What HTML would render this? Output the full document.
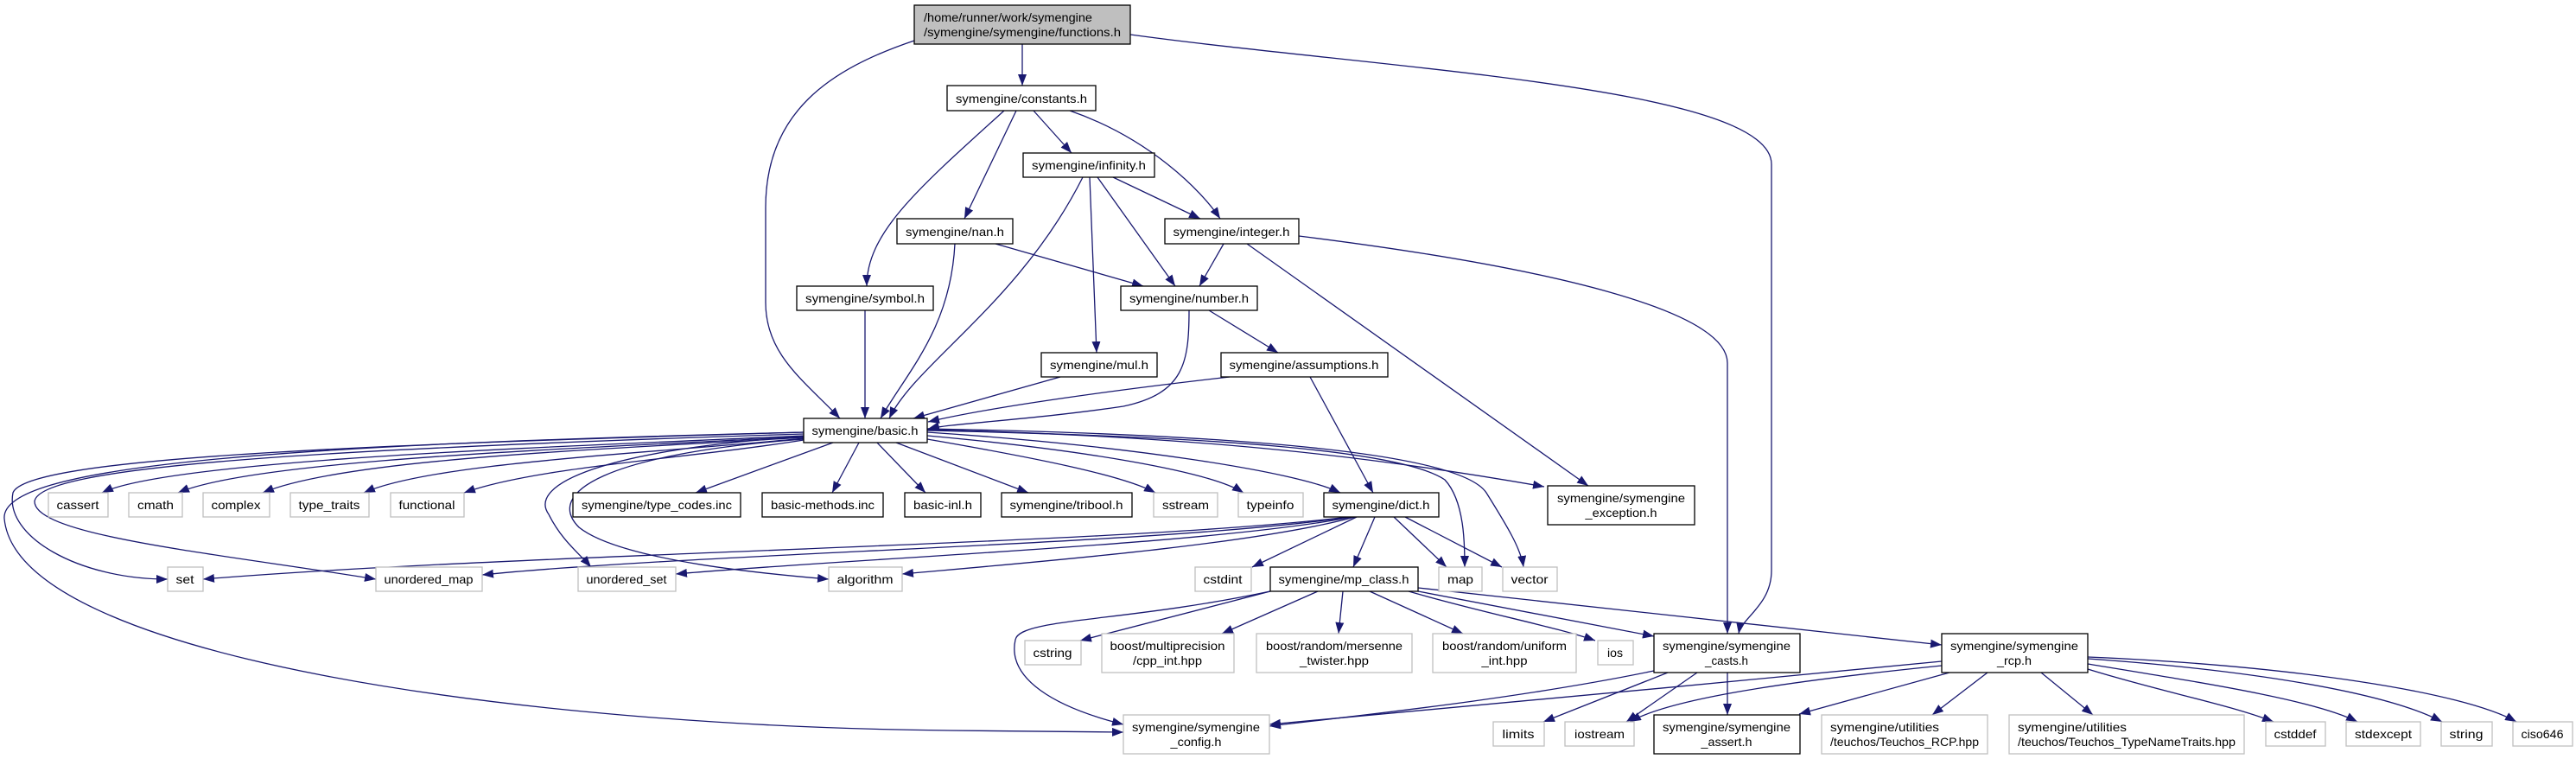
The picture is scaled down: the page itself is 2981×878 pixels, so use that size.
<!DOCTYPE html>
<html><head><meta charset="utf-8"><style>
html,body{margin:0;padding:0;background:#fff;}
svg{display:block;}
text{font-family:"Liberation Sans","DejaVu Sans",sans-serif;font-size:14px;fill:#000;}
.n{fill:#fff;stroke:#000;stroke-width:1.3;}
.g{fill:#fff;stroke:#bfbfbf;stroke-width:1.3;}
.e{fill:none;stroke:#191970;stroke-width:1.3;marker-end:url(#a);}
</style></head><body>
<svg width="2981" height="878" viewBox="0 0 2981 878" xmlns="http://www.w3.org/2000/svg">
<defs><marker id="a" markerUnits="userSpaceOnUse" markerWidth="14" markerHeight="10" refX="13" refY="5" orient="auto"><path d="M0,0 L13,5 L0,10 z" fill="#191970"/></marker></defs>

<!-- edges -->
<path class="e" d="M1183,51 L1183,99"/>
<path class="e" d="M1058,47 C960,80 886,130 886,240 L886,350 C886,410 930,440 972,484"/>
<path class="e" d="M1308,40 C1600,80 2050,100 2050,190 L2050,660 C2050,700 2015,715 2012,733"/>
<path class="e" d="M1162,128 C1060,220 1003,270 1003,331"/>
<path class="e" d="M1176,128 L1116,253"/>
<path class="e" d="M1196,128 L1240,177"/>
<path class="e" d="M1238,128 C1330,160 1390,220 1412,253"/>
<path class="e" d="M1253,205 C1180,350 1060,420 1029,484"/>
<path class="e" d="M1261,205 L1269,408"/>
<path class="e" d="M1270,205 L1360,331"/>
<path class="e" d="M1288,205 L1389,253"/>
<path class="e" d="M1105,282 C1100,380 1050,430 1019,484"/>
<path class="e" d="M1152,282 L1323,331"/>
<path class="e" d="M1416,282 L1388,331"/>
<path class="e" d="M1443,282 L1838,562"/>
<path class="e" d="M1503,273 C1800,310 1999,360 1999,420 L1999,733"/>
<path class="e" d="M1001,359 L1001,484"/>
<path class="e" d="M1376,359 C1376,420 1370,455 1300,470 C1200,485 1100,490 1074,496"/>
<path class="e" d="M1399,359 L1479,408"/>
<path class="e" d="M1227,436 L1057,484"/>
<path class="e" d="M1423,436 C1300,450 1150,470 1074,488"/>
<path class="e" d="M1516,436 L1589,570"/>

<path class="e" d="M930,504 C700,515 200,530 118,570"/>
<path class="e" d="M930,505 C700,518 300,530 206,570"/>
<path class="e" d="M930,506 C700,520 400,530 304,570"/>
<path class="e" d="M930,507 C750,525 500,535 421,570"/>
<path class="e" d="M930,509 C800,530 620,540 537,570"/>
<path class="e" d="M964,512 L805,570"/>
<path class="e" d="M994,512 L963,570"/>
<path class="e" d="M1015,512 L1071,570"/>
<path class="e" d="M1037,512 L1190,570"/>
<path class="e" d="M1073,508 C1200,530 1300,550 1337,570"/>
<path class="e" d="M1073,504 C1250,520 1400,545 1439,570"/>
<path class="e" d="M1073,500 C1300,515 1500,545 1551,570"/>
<path class="e" d="M1073,497 C1400,505 1600,530 1787,563"/>
<path class="e" d="M1073,498 C1400,505 1620,520 1672,555 C1695,580 1695,630 1695,656"/>
<path class="e" d="M1073,496 C1450,503 1690,525 1720,570 C1745,610 1760,635 1763,656"/>
<path class="e" d="M930,500 C400,515 30,530 15,570 C5,620 90,670 194,670"/>
<path class="e" d="M930,502 C350,520 45,540 40,580 C40,620 250,640 435,670"/>
<path class="e" d="M930,505 C700,520 610,560 635,595 C650,625 670,640 684,656"/>
<path class="e" d="M930,508 C700,525 630,570 670,610 C720,650 900,665 959,670"/>
<path class="e" d="M930,500 C300,515 0,540 5,600 C20,760 600,840 1100,845 L1300,847"/>

<path class="e" d="M1560,598 C1300,630 600,640 235,670"/>
<path class="e" d="M1562,598 C1350,630 800,640 558,665"/>
<path class="e" d="M1565,598 C1400,630 1000,645 782,664"/>
<path class="e" d="M1568,598 C1450,630 1200,650 1044,664"/>
<path class="e" d="M1570,598 L1449,656"/>
<path class="e" d="M1591,598 L1566,656"/>
<path class="e" d="M1613,598 L1674,656"/>
<path class="e" d="M1626,598 L1738,656"/>

<path class="e" d="M1470,684 L1250,741"/>
<path class="e" d="M1470,684 C1300,720 1180,715 1175,740 C1165,785 1220,818 1300,838"/>
<path class="e" d="M1525,684 L1414,733"/>
<path class="e" d="M1554,684 L1549,733"/>
<path class="e" d="M1585,684 L1693,733"/>
<path class="e" d="M1630,684 C1720,710 1800,725 1846,741"/>
<path class="e" d="M1641,684 L1914,736"/>
<path class="e" d="M1641,680 L2247,746"/>

<path class="e" d="M1914,776 C1750,810 1550,830 1469,840"/>
<path class="e" d="M1930,778 L1786,835"/>
<path class="e" d="M1964,778 L1882,835"/>
<path class="e" d="M1999,778 L1999,827"/>
<path class="e" d="M2247,765 C2000,790 1600,825 1469,838"/>
<path class="e" d="M2247,770 C2050,790 1930,810 1886,835"/>
<path class="e" d="M2256,778 L2082,826"/>
<path class="e" d="M2300,778 L2236,827"/>
<path class="e" d="M2362,778 L2422,827"/>
<path class="e" d="M2416,774 C2500,800 2580,815 2631,835"/>
<path class="e" d="M2416,768 C2550,790 2680,810 2728,835"/>
<path class="e" d="M2416,762 C2600,775 2760,800 2826,835"/>
<path class="e" d="M2416,760 C2650,770 2850,800 2912,835"/>

<!-- nodes -->
<rect x="1058" y="6" width="250" height="45" fill="#bfbfbf" stroke="#000" stroke-width="1.3"/>
<text x="1069" y="25" textLength="195" lengthAdjust="spacingAndGlyphs">/home/runner/work/symengine</text>
<text x="1069" y="42" textLength="228" lengthAdjust="spacingAndGlyphs">/symengine/symengine/functions.h</text>

<rect class="n" x="1096" y="99" width="172" height="29"/><text x="1182" y="119" text-anchor="middle" textLength="152" lengthAdjust="spacingAndGlyphs">symengine/constants.h</text>
<rect class="n" x="1184" y="177" width="152" height="28"/><text x="1260" y="196" text-anchor="middle" textLength="132" lengthAdjust="spacingAndGlyphs">symengine/infinity.h</text>
<rect class="n" x="1038" y="253" width="134" height="29"/><text x="1105" y="273" text-anchor="middle" textLength="114" lengthAdjust="spacingAndGlyphs">symengine/nan.h</text>
<rect class="n" x="1348" y="253" width="155" height="29"/><text x="1425" y="273" text-anchor="middle" textLength="135" lengthAdjust="spacingAndGlyphs">symengine/integer.h</text>
<rect class="n" x="922" y="331" width="158" height="28"/><text x="1001" y="350" text-anchor="middle" textLength="138" lengthAdjust="spacingAndGlyphs">symengine/symbol.h</text>
<rect class="n" x="1297" y="331" width="158" height="28"/><text x="1376" y="350" text-anchor="middle" textLength="138" lengthAdjust="spacingAndGlyphs">symengine/number.h</text>
<rect class="n" x="1205" y="408" width="134" height="28"/><text x="1272" y="427" text-anchor="middle" textLength="114" lengthAdjust="spacingAndGlyphs">symengine/mul.h</text>
<rect class="n" x="1413" y="408" width="193" height="28"/><text x="1509" y="427" text-anchor="middle" textLength="173" lengthAdjust="spacingAndGlyphs">symengine/assumptions.h</text>
<rect class="n" x="930" y="484" width="143" height="28"/><text x="1001" y="503" text-anchor="middle" textLength="123" lengthAdjust="spacingAndGlyphs">symengine/basic.h</text>

<rect class="g" x="56" y="570" width="69" height="28"/><text x="90" y="589" text-anchor="middle" textLength="49" lengthAdjust="spacingAndGlyphs">cassert</text>
<rect class="g" x="149" y="570" width="62" height="28"/><text x="180" y="589" text-anchor="middle" textLength="42" lengthAdjust="spacingAndGlyphs">cmath</text>
<rect class="g" x="235" y="570" width="77" height="28"/><text x="273" y="589" text-anchor="middle" textLength="57" lengthAdjust="spacingAndGlyphs">complex</text>
<rect class="g" x="336" y="570" width="91" height="28"/><text x="381" y="589" text-anchor="middle" textLength="71" lengthAdjust="spacingAndGlyphs">type_traits</text>
<rect class="g" x="452" y="570" width="85" height="28"/><text x="494" y="589" text-anchor="middle" textLength="65" lengthAdjust="spacingAndGlyphs">functional</text>
<rect class="n" x="663" y="570" width="194" height="28"/><text x="760" y="589" text-anchor="middle" textLength="174" lengthAdjust="spacingAndGlyphs">symengine/type_codes.inc</text>
<rect class="n" x="882" y="570" width="140" height="28"/><text x="952" y="589" text-anchor="middle" textLength="120" lengthAdjust="spacingAndGlyphs">basic-methods.inc</text>
<rect class="n" x="1047" y="570" width="88" height="28"/><text x="1091" y="589" text-anchor="middle" textLength="68" lengthAdjust="spacingAndGlyphs">basic-inl.h</text>
<rect class="n" x="1159" y="570" width="151" height="28"/><text x="1234" y="589" text-anchor="middle" textLength="131" lengthAdjust="spacingAndGlyphs">symengine/tribool.h</text>
<rect class="g" x="1335" y="570" width="74" height="28"/><text x="1372" y="589" text-anchor="middle" textLength="54" lengthAdjust="spacingAndGlyphs">sstream</text>
<rect class="g" x="1433" y="570" width="75" height="28"/><text x="1470" y="589" text-anchor="middle" textLength="55" lengthAdjust="spacingAndGlyphs">typeinfo</text>
<rect class="n" x="1532" y="570" width="133" height="28"/><text x="1598" y="589" text-anchor="middle" textLength="113" lengthAdjust="spacingAndGlyphs">symengine/dict.h</text>
<rect class="n" x="1791" y="562" width="170" height="45"/>
<text x="1876" y="581" text-anchor="middle" textLength="148" lengthAdjust="spacingAndGlyphs">symengine/symengine</text>
<text x="1876" y="598" text-anchor="middle" textLength="83" lengthAdjust="spacingAndGlyphs">_exception.h</text>

<rect class="g" x="194" y="656" width="41" height="28"/><text x="214" y="675" text-anchor="middle" textLength="21" lengthAdjust="spacingAndGlyphs">set</text>
<rect class="g" x="435" y="656" width="123" height="28"/><text x="496" y="675" text-anchor="middle" textLength="103" lengthAdjust="spacingAndGlyphs">unordered_map</text>
<rect class="g" x="669" y="656" width="113" height="28"/><text x="725" y="675" text-anchor="middle" textLength="93" lengthAdjust="spacingAndGlyphs">unordered_set</text>
<rect class="g" x="959" y="656" width="85" height="28"/><text x="1001" y="675" text-anchor="middle" textLength="65" lengthAdjust="spacingAndGlyphs">algorithm</text>
<rect class="g" x="1383" y="656" width="65" height="28"/><text x="1415" y="675" text-anchor="middle" textLength="45" lengthAdjust="spacingAndGlyphs">cstdint</text>
<rect class="n" x="1470" y="656" width="171" height="28"/><text x="1555" y="675" text-anchor="middle" textLength="151" lengthAdjust="spacingAndGlyphs">symengine/mp_class.h</text>
<rect class="g" x="1665" y="656" width="50" height="28"/><text x="1690" y="675" text-anchor="middle" textLength="30" lengthAdjust="spacingAndGlyphs">map</text>
<rect class="g" x="1739" y="656" width="63" height="28"/><text x="1770" y="675" text-anchor="middle" textLength="43" lengthAdjust="spacingAndGlyphs">vector</text>

<rect class="g" x="1186" y="741" width="65" height="28"/><text x="1218" y="760" text-anchor="middle" textLength="45" lengthAdjust="spacingAndGlyphs">cstring</text>
<rect class="g" x="1275" y="733" width="153" height="45"/>
<text x="1351" y="752" text-anchor="middle" textLength="133" lengthAdjust="spacingAndGlyphs">boost/multiprecision</text>
<text x="1351" y="769" text-anchor="middle" textLength="80" lengthAdjust="spacingAndGlyphs">/cpp_int.hpp</text>
<rect class="g" x="1454" y="733" width="180" height="45"/>
<text x="1544" y="752" text-anchor="middle" textLength="158" lengthAdjust="spacingAndGlyphs">boost/random/mersenne</text>
<text x="1544" y="769" text-anchor="middle" textLength="80" lengthAdjust="spacingAndGlyphs">_twister.hpp</text>
<rect class="g" x="1658" y="733" width="166" height="45"/>
<text x="1741" y="752" text-anchor="middle" textLength="144" lengthAdjust="spacingAndGlyphs">boost/random/uniform</text>
<text x="1741" y="769" text-anchor="middle" textLength="53" lengthAdjust="spacingAndGlyphs">_int.hpp</text>
<rect class="g" x="1849" y="741" width="41" height="28"/><text x="1869" y="760" text-anchor="middle" textLength="18" lengthAdjust="spacingAndGlyphs">ios</text>
<rect class="n" x="1914" y="733" width="169" height="45"/>
<text x="1998" y="752" text-anchor="middle" textLength="148" lengthAdjust="spacingAndGlyphs">symengine/symengine</text>
<text x="1998" y="769" text-anchor="middle" textLength="50" lengthAdjust="spacingAndGlyphs">_casts.h</text>
<rect class="n" x="2247" y="733" width="169" height="45"/>
<text x="2331" y="752" text-anchor="middle" textLength="148" lengthAdjust="spacingAndGlyphs">symengine/symengine</text>
<text x="2331" y="769" text-anchor="middle" textLength="40" lengthAdjust="spacingAndGlyphs">_rcp.h</text>

<rect class="g" x="1300" y="827" width="169" height="45"/>
<text x="1384" y="846" text-anchor="middle" textLength="148" lengthAdjust="spacingAndGlyphs">symengine/symengine</text>
<text x="1384" y="863" text-anchor="middle" textLength="59" lengthAdjust="spacingAndGlyphs">_config.h</text>
<rect class="g" x="1728" y="835" width="59" height="28"/><text x="1757" y="854" text-anchor="middle" textLength="37" lengthAdjust="spacingAndGlyphs">limits</text>
<rect class="g" x="1811" y="835" width="80" height="28"/><text x="1851" y="854" text-anchor="middle" textLength="58" lengthAdjust="spacingAndGlyphs">iostream</text>
<rect class="n" x="1914" y="827" width="169" height="45"/>
<text x="1998" y="846" text-anchor="middle" textLength="148" lengthAdjust="spacingAndGlyphs">symengine/symengine</text>
<text x="1998" y="863" text-anchor="middle" textLength="59" lengthAdjust="spacingAndGlyphs">_assert.h</text>
<rect class="g" x="2108" y="827" width="192" height="45"/>
<text x="2118" y="846" textLength="126" lengthAdjust="spacingAndGlyphs">symengine/utilities</text>
<text x="2118" y="863" textLength="172" lengthAdjust="spacingAndGlyphs">/teuchos/Teuchos_RCP.hpp</text>
<rect class="g" x="2325" y="827" width="272" height="45"/>
<text x="2335" y="846" textLength="126" lengthAdjust="spacingAndGlyphs">symengine/utilities</text>
<text x="2335" y="863" textLength="252" lengthAdjust="spacingAndGlyphs">/teuchos/Teuchos_TypeNameTraits.hpp</text>
<rect class="g" x="2622" y="835" width="69" height="28"/><text x="2656" y="854" text-anchor="middle" textLength="49" lengthAdjust="spacingAndGlyphs">cstddef</text>
<rect class="g" x="2715" y="835" width="86" height="28"/><text x="2758" y="854" text-anchor="middle" textLength="66" lengthAdjust="spacingAndGlyphs">stdexcept</text>
<rect class="g" x="2825" y="835" width="59" height="28"/><text x="2854" y="854" text-anchor="middle" textLength="39" lengthAdjust="spacingAndGlyphs">string</text>
<rect class="g" x="2908" y="835" width="69" height="28"/><text x="2942" y="854" text-anchor="middle" textLength="49" lengthAdjust="spacingAndGlyphs">ciso646</text>
</svg>
</body></html>
